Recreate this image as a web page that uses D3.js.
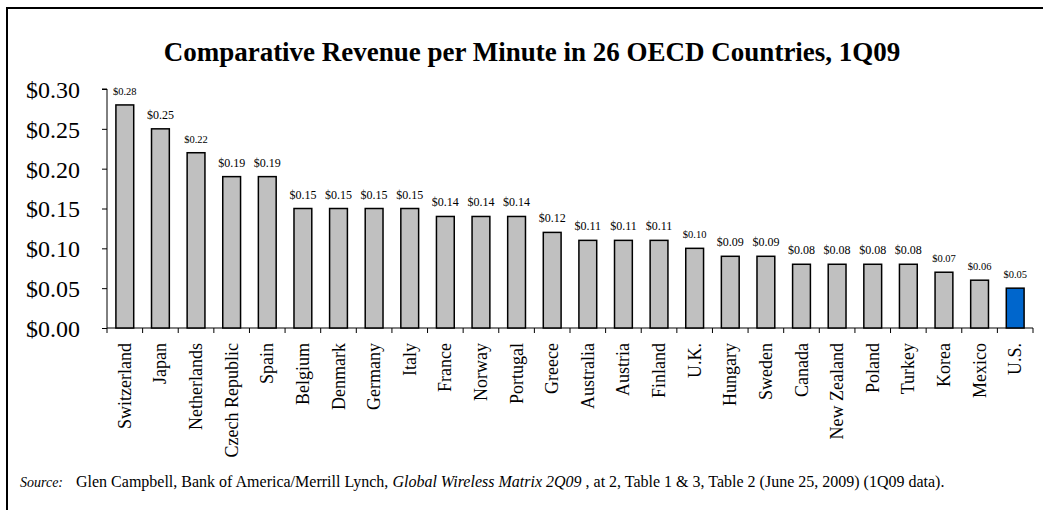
<!DOCTYPE html>
<html>
<head>
<meta charset="utf-8">
<script src="https://cdn.jsdelivr.net/npm/d3@7"></script>
<style>
  body { margin: 0; background: white; }
  svg { display: block; }
  svg text { font-family: "Liberation Serif", "Times New Roman", serif; fill: black; }
</style>
</head>
<body>
<div id="chart"></div>
<script>
// values
const countries = ["Switzerland", "Japan", "Netherlands", "Czech Republic", "Spain", "Belgium",
  "Denmark", "Germany", "Italy", "France", "Norway", "Portugal", "Greece", "Australia",
  "Austria", "Finland", "U.K.", "Hungary", "Sweden", "Canada", "New Zealand", "Poland",
  "Turkey", "Korea", "Mexico", "U.S."];
const revenue = [0.28, 0.25, 0.22, 0.19, 0.19, 0.15, 0.15, 0.15, 0.15, 0.14, 0.14, 0.14,
  0.12, 0.11, 0.11, 0.11, 0.10, 0.09, 0.09, 0.08, 0.08, 0.08, 0.08, 0.07, 0.06, 0.05];
const yTicks = [0, 0.05, 0.10, 0.15, 0.20, 0.25, 0.30];
// labels drawn a bit smaller in the original
const smallLabels = ["Switzerland", "Netherlands", "U.K.", "Korea", "Mexico", "U.S."];

const data = countries.map((c, i) => ({ name: c, value: revenue[i] }));

const W = 1043, H = 510;
const m = { left: 107, right: 1033, top: 89, base: 328 };
const fmt = d3.format('$.2f');

const svg = d3.select('#chart').append('svg')
  .attr('width', W).attr('height', H);

// outer frame, runs off the right and bottom edges
svg.append('rect')
  .attr('x', 7).attr('y', 8)
  .attr('width', W + 20).attr('height', H + 20)
  .attr('fill', 'none').attr('stroke', 'black').attr('stroke-width', 2);

svg.append('text')
  .attr('x', 532).attr('y', 61)
  .attr('text-anchor', 'middle')
  .attr('font-size', 27).attr('font-weight', 'bold')
  .text('Comparative Revenue per Minute in 26 OECD Countries, 1Q09');

const x = d3.scaleBand()
  .domain(countries)
  .range([m.left, m.right])
  .paddingInner(0.5).paddingOuter(0.25);

const y = d3.scaleLinear()
  .domain([0, 0.30])
  .range([m.base, m.top]);

// y axis
const yAxis = svg.append('g')
  .attr('transform', `translate(${m.left},0)`)
  .call(d3.axisLeft(y).tickValues(yTicks).tickSize(5).tickFormat(fmt));
yAxis.select('.domain').attr('d', `M-5,${y(0.30)}H0V${y(0)}`).attr('stroke', 'black');
yAxis.selectAll('text')
  .attr('font-size', 24)
  .attr('font-family', '"Liberation Serif", serif')
  .attr('x', -27).attr('dy', '0.35em');
yAxis.selectAll('line').attr('stroke', 'black');

// x axis with ticks between categories
const xg = svg.append('g');
xg.append('line')
  .attr('x1', m.left).attr('x2', m.right)
  .attr('y1', y(0)).attr('y2', y(0))
  .attr('stroke', 'black');
const edge = i => m.left + i * (m.right - m.left) / countries.length;
xg.selectAll('.xt')
  .data(d3.range(countries.length + 1))
  .join('line')
  .attr('x1', edge).attr('x2', edge)
  .attr('y1', y(0)).attr('y2', y(0) + 5)
  .attr('stroke', 'black');

xg.selectAll('.xl')
  .data(data)
  .join('text')
  .attr('transform', d => `translate(${x(d.name) + x.bandwidth() / 2 + 6},${y(0) + 15}) rotate(-90)`)
  .attr('text-anchor', 'end')
  .attr('font-size', 18)
  .text(d => d.name);

// bars
svg.selectAll('.bar')
  .data(data)
  .join('rect')
  .attr('x', d => x(d.name))
  .attr('y', d => y(d.value))
  .attr('width', x.bandwidth())
  .attr('height', d => y(0) - y(d.value))
  .attr('fill', d => d.name === 'U.S.' ? '#0066cc' : '#c0c0c0')
  .attr('stroke', 'black')
  .attr('stroke-width', 1.5);

svg.selectAll('.val')
  .data(data)
  .join('text')
  .attr('x', d => x(d.name) + x.bandwidth() / 2)
  .attr('y', d => y(d.value) - 10)
  .attr('text-anchor', 'middle')
  .attr('font-size', d => smallLabels.includes(d.name) ? 10.5 : 12)
  .text(d => fmt(d.value));

// source note
const src = svg.append('text')
  .attr('x', 20).attr('y', 487)
  .attr('font-size', 16);
src.append('tspan').attr('font-style', 'italic').attr('font-size', 14).text('Source:');
src.append('tspan').attr('x', 76).text('Glen Campbell, Bank of America/Merrill Lynch, ');
src.append('tspan').attr('font-style', 'italic').text('Global Wireless Matrix 2Q09');
src.append('tspan').text(' , at 2, Table 1 & 3, Table 2 (June 25, 2009) (1Q09 data).');
</script>
</body>
</html>
